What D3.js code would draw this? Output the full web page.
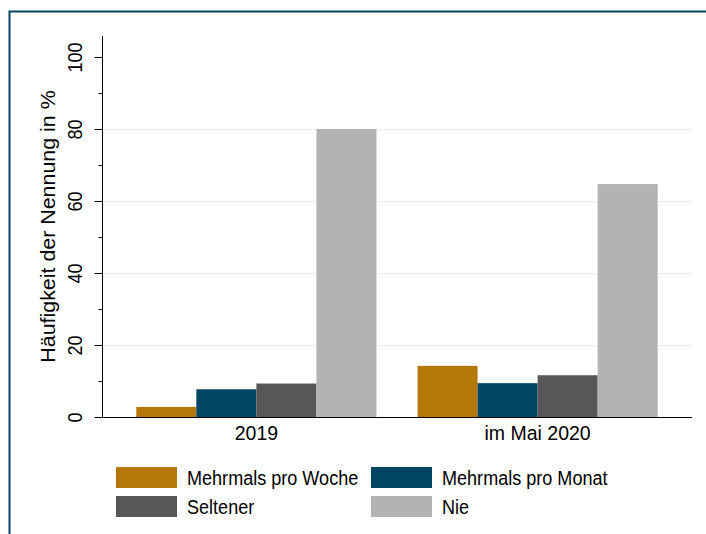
<!DOCTYPE html>
<html>
<head>
<meta charset="utf-8">
<script src="https://cdn.jsdelivr.net/npm/d3@7"></script>
<style>
  body { margin: 0; background: #fff; }
  svg text { font-family: "Liberation Sans", Arial, sans-serif; fill: #000; }
</style>
</head>
<body>
<div id="graphicContainer"></div>
<script>

// data

var groups = ["2019", "im Mai 2020"];
var series = ["Mehrmals pro Woche", "Mehrmals pro Monat", "Seltener", "Nie"];
var values_2019 = [2.8, 7.7, 9.3, 80.0];
var values_2020 = [14.2, 9.4, 11.6, 64.7];
var y_ticks = [0, 20, 40, 60, 80, 100];
var y_minor = [10, 30, 50, 70, 90];

var colour_choices = ["#b5760a", "#004563", "#575757", "#b3b3b3"];

var rows = [values_2019, values_2020];

function draw_bars() {

		var width = 706, height = 534;
		var margin = {top: 36, right: 14, bottom: 117, left: 102};

		var svg = d3.select("#graphicContainer").append("svg")
			.attr("width", width)
			.attr("height", height);

		// outer frame (cut at the right and bottom edges)
		svg.append("rect")
			.attr("x", 9.5).attr("y", 11.5)
			.attr("width", 720).attr("height", 560)
			.attr("fill", "none")
			.attr("stroke", "#004563")
			.attr("stroke-width", 2);

		var x0 = d3.scaleBand()
			.domain(groups)
			.range([margin.left, width - margin.right])
			.paddingInner(0.146)
			.paddingOuter(0.122);

		var x1 = d3.scaleBand()
			.domain(series)
			.range([0, x0.bandwidth()]);

		var y = d3.scaleLinear()
			.domain([0, 100])
			.range([417, 57]);

		var color = d3.scaleOrdinal()
			.domain(series)
			.range(colour_choices);

		// gridlines
		svg.append("g")
			.selectAll("line")
			.data(y_ticks.filter(d => d > 0 && d < 100))
			.enter()
			.append("line")
			.attr("x1", margin.left)
			.attr("x2", width - margin.right)
			.attr("y1", d => y(d) + 0.5)
			.attr("y2", d => y(d) + 0.5)
			.attr("stroke", "#e9f0f1")
			.attr("stroke-width", 1.5);

		// bars
		svg.append("g")
			.selectAll("g")
			.data(rows)
			.enter()
			.append("g")
			.attr("transform", (d, i) => `translate(${x0(groups[i])},0)`)
			.selectAll("rect")
			.data(d => series.map((key, j) => ({key, value: d[j]})))
			.enter()
			.append("rect")
			.attr("x", d => x1(d.key))
			.attr("y", d => y(d.value))
			.attr("width", x1.bandwidth())
			.attr("height", d => y(0) - y(d.value))
			.attr("fill", d => color(d.key));

		// y axis
		var yAxis = svg.append("g")
			.attr("transform", `translate(${margin.left + 0.5},0)`)
			.call(d3.axisLeft(y).tickValues(y_ticks).tickSize(8))
			.call(g => g.select(".domain").attr("d", `M0,${margin.top}V${y(0)}`).attr("stroke", "#000"));

		yAxis.selectAll(".tick line").attr("stroke", "#000");
		yAxis.selectAll(".tick text")
			.attr("font-size", 21)
			.attr("text-anchor", "middle")
			.attr("dy", 0)
			.attr("x", 0)
			.attr("transform", "translate(-20.5,0) rotate(-90) scale(0.86,1)");

		svg.append("g")
			.attr("transform", `translate(${margin.left + 0.5},0)`)
			.call(d3.axisLeft(y).tickValues(y_minor).tickSize(4).tickFormat(""))
			.call(g => g.select(".domain").remove())
			.call(g => g.selectAll("line").attr("stroke", "#000"));

		// x axis
		svg.append("g")
			.attr("transform", `translate(0,${y(0) + 0.5})`)
			.call(d3.axisBottom(x0).tickSize(0).tickPadding(9))
			.call(g => g.select(".domain").attr("d", `M${margin.left},0H${width - margin.right}`).attr("stroke", "#000"))
			.call(g => g.selectAll("text").attr("font-size", 19.5));

		// y title
		svg.append("text")
			.attr("transform", `translate(55,${(margin.top + y(0)) / 2}) rotate(-90) scale(1.07,1)`)
			.attr("text-anchor", "middle")
			.attr("font-size", 20)
			.text("Häufigkeit der Nennung in %");

		// legend
		var legendX = [116, 371];
		var legendY = [467, 496];

		var legend = svg.append("g")
			.selectAll("g")
			.data(series)
			.enter()
			.append("g")
			.attr("transform", (d, i) => `translate(${legendX[i % 2]},${legendY[Math.floor(i / 2)]})`);

		legend.append("rect")
			.attr("width", 61)
			.attr("height", 21)
			.attr("fill", color);

		legend.append("text")
			.attr("transform", "translate(71,10.5) scale(0.86,1)")
			.attr("dy", "0.35em")
			.attr("font-size", 21)
			.text(d => d);
}

draw_bars();

</script>
</body>
</html>
